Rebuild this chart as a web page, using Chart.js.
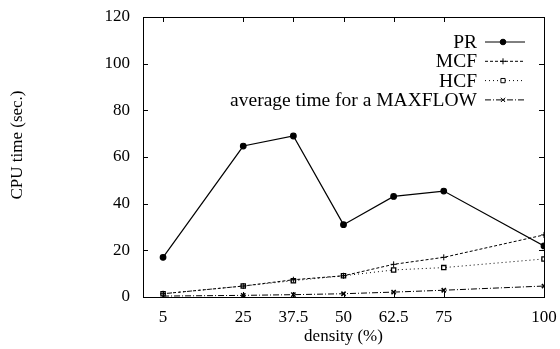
<!DOCTYPE html>
<html><head><meta charset="utf-8">
<script src="https://cdn.jsdelivr.net/npm/chart.js@4"></script>
<style>html,body{margin:0;padding:0;background:#fff}#c{display:block}</style>
</head>
<body>
<canvas id="c" width="560" height="349"></canvas>
<script>
const density=[5,25,37.5,50,62.5,75,100];
const xTicks=[5,25,37.5,50,62.5,75,100];
const yTicks=[0,20,40,60,80,100,120];
const pr=[17,64.7,69,31,43.1,45.4,21.9];
const mcf=[1.4,4.7,7.4,9.1,14,17,26.6];
const hcf=[1.4,4.7,7,9.1,11.6,12.6,16.3];
const maxflow=[0.4,0.7,1.0,1.4,2.1,2.9,4.7];
const names=['PR','MCF','HCF','average time for a MAXFLOW'];
const yTitle='CPU time (sec.)';

const pts=a=>a.map((v,i)=>({x:density[i],y:v}));
Chart.defaults.font.family="'Liberation Serif', 'DejaVu Serif', serif";
Chart.defaults.font.size=17;
Chart.defaults.color='#000';

const frame={id:'frame',afterDatasetsDraw(chart){
  const {ctx,chartArea:a,scales:{x,y}}=chart;
  ctx.save();ctx.strokeStyle='#000';ctx.lineWidth=1;ctx.setLineDash([]);
  ctx.strokeRect(Math.round(a.left)+0.5,Math.round(a.top)+0.5,Math.round(a.right-a.left),Math.round(a.bottom-a.top));
  const L=5;ctx.beginPath();
  xTicks.forEach(v=>{const px=Math.round(x.getPixelForValue(v))+0.5;
    ctx.moveTo(px,a.bottom);ctx.lineTo(px,a.bottom-L);ctx.moveTo(px,a.top);ctx.lineTo(px,a.top+L);});
  yTicks.forEach(v=>{const py=Math.round(y.getPixelForValue(v))+0.5;
    ctx.moveTo(a.left,py);ctx.lineTo(a.left+L,py);ctx.moveTo(a.right,py);ctx.lineTo(a.right-L,py);});
  ctx.stroke();
  // y title
  ctx.save();ctx.font="17px 'Liberation Serif', serif";ctx.fillStyle='#000';ctx.textAlign='center';ctx.textBaseline='middle';
  ctx.translate(18,145);ctx.rotate(-Math.PI/2);ctx.fillText(yTitle,0,0);ctx.restore();
  // legend
  ctx.font="19.5px 'Liberation Serif', serif";ctx.fillStyle='#000';ctx.textAlign='right';ctx.textBaseline='middle';
  chart.data.datasets.forEach((ds,i)=>{
    const ly=42+i*19.3;
    ctx.fillText(names[i],477,ly+1);
    ctx.save();ctx.lineWidth=1;ctx.setLineDash(ds.borderDash||[]);ctx.beginPath();ctx.moveTo(485,ly);ctx.lineTo(525,ly);ctx.stroke();ctx.restore();
    ctx.save();ctx.setLineDash([]);ctx.fillStyle=ds.pointBackgroundColor;ctx.strokeStyle='#000';ctx.lineWidth=1;
    Chart.helpers.drawPoint(ctx,{pointStyle:ds.pointStyle,radius:ds.pointRadius,borderWidth:1,rotation:0},503,ly);
    ctx.restore();
  });
  ctx.restore();
}};

new Chart(document.getElementById('c'),{
  type:'line',
  data:{datasets:[
    {label:names[0],data:pts(pr),borderColor:'#000',borderWidth:1.2,pointStyle:'circle',pointRadius:2.8,pointBackgroundColor:'#000',pointBorderColor:'#000'},
    {label:names[1],data:pts(mcf),borderColor:'#000',borderWidth:1,borderDash:[3,2],pointStyle:'cross',pointRadius:3,pointBackgroundColor:'#000',pointBorderColor:'#000'},
    {label:names[2],data:pts(hcf),borderColor:'#000',borderWidth:1,borderDash:[1,3],pointStyle:'rect',pointRadius:3,pointBackgroundColor:'#fff',pointBorderColor:'#000',pointBorderWidth:1.3},
    {label:names[3],data:pts(maxflow),borderColor:'#000',borderWidth:1,borderDash:[6,2,1,2],pointStyle:'crossRot',pointRadius:3,pointBackgroundColor:'#000',pointBorderColor:'#000',pointBorderWidth:1.5}
  ]},
  options:{
    responsive:false,animation:false,devicePixelRatio:1,
    layout:{padding:{top:17,right:16,left:0,bottom:0}},
    plugins:{legend:{display:false},tooltip:{enabled:false}},
    scales:{
      x:{type:'linear',min:0,max:100,
        afterBuildTicks(s){s.ticks=xTicks.map(v=>({value:v}));},
        afterFit(s){s.height=52;s.paddingLeft=0;s.paddingRight=0;},
        grid:{display:false,drawTicks:false},border:{display:false},
        ticks:{padding:10,autoSkip:false,maxRotation:0,callback:v=>String(v)},
        title:{display:true,text:'density (%)',padding:{top:0,bottom:2}}},
      y:{min:0,max:120,
        afterBuildTicks(s){s.ticks=yTicks.map(v=>({value:v}));},
        afterFit(s){s.width=143;s.paddingTop=0;s.paddingBottom=0;},
        grid:{display:false,drawTicks:false},border:{display:false},
        ticks:{padding:13,callback:v=>String(v)},
        title:{display:false}}
    }
  },
  plugins:[frame]
});
</script>
</body></html>
